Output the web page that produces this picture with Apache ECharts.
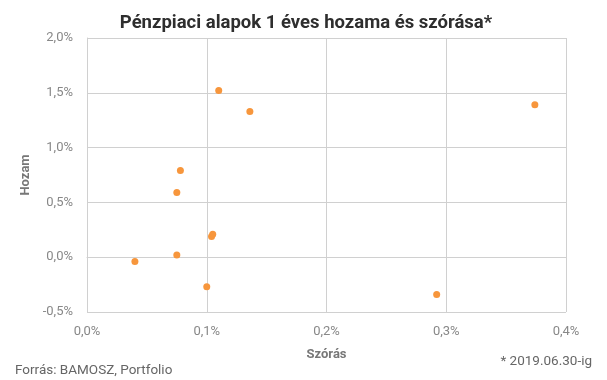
<!DOCTYPE html>
<html><head><meta charset="utf-8">
<script src="https://cdn.jsdelivr.net/npm/echarts@6/dist/echarts.min.js"></script>
<style>html,body{margin:0;padding:0;background:#fff}#c{width:607px;height:380px}</style>
</head><body><div id="c"></div>
<script>
const title = 'Pénzpiaci alapok 1 éves hozama és szórása*';
const xName = 'Szórás';
const yName = 'Hozam';
const source = 'Forrás: BAMOSZ, Portfolio';
const note = '* 2019.06.30-ig';
// Szórás (%) and Hozam (%) per fund
const stdDev = [0.110, 0.136, 0.078, 0.075, 0.104, 0.105, 0.075, 0.040, 0.100, 0.374, 0.292];
const returns = [1.52, 1.33, 0.79, 0.59, 0.19, 0.21, 0.02, -0.04, -0.27, 1.39, -0.34];

const fmt = v => v.toFixed(1).replace('.', ',') + '%';
const chart = echarts.init(document.getElementById('c'));
chart.setOption({
  animation: false,
  textStyle: { fontFamily: 'Roboto' },
  title: [
    { text: title, left: 301, top: 9, textAlign: 'center',
      textStyle: { fontFamily: 'Roboto', fontWeight: 'bold', fontSize: 18.5, color: '#2e2e2e' } },
    { text: source, left: 10, top: 359,
      textStyle: { fontFamily: 'Roboto', fontWeight: 'normal', fontSize: 13.5, color: '#666' } },
    { text: note, right: 10, top: 350,
      textStyle: { fontFamily: 'Roboto', fontWeight: 'normal', fontSize: 13.5, color: '#666' } }
  ],
  grid: { left: 87, right: 41, top: 38, bottom: 68 },
  xAxis: {
    type: 'value', min: 0, max: 0.4, interval: 0.1,
    name: xName, nameLocation: 'middle', nameGap: 36,
    nameTextStyle: { fontWeight: 'bold', fontSize: 13, color: '#777' },
    axisLine: { show: true, lineStyle: { color: '#d0d0d0' } },
    axisTick: { show: false },
    axisLabel: { formatter: fmt, color: '#888', fontSize: 13, margin: 13 },
    splitLine: { show: true, lineStyle: { color: '#d0d0d0' } }
  },
  yAxis: {
    type: 'value', min: -0.5, max: 2.0, interval: 0.5,
    name: yName, nameLocation: 'middle', nameGap: 50, nameRotate: 90,
    nameTextStyle: { fontWeight: 'bold', fontSize: 13, color: '#777' },
    axisLine: { show: true, lineStyle: { color: '#d0d0d0' } },
    axisTick: { show: false },
    axisLabel: { formatter: fmt, color: '#888', fontSize: 13, margin: 14 },
    splitLine: { show: true, lineStyle: { color: '#d0d0d0' } }
  },
  series: [{
    type: 'scatter',
    symbolSize: 7,
    itemStyle: { color: '#f7963c', opacity: 1 },
    data: stdDev.map((x, i) => [x, returns[i]])
  }]
});
</script></body></html>
